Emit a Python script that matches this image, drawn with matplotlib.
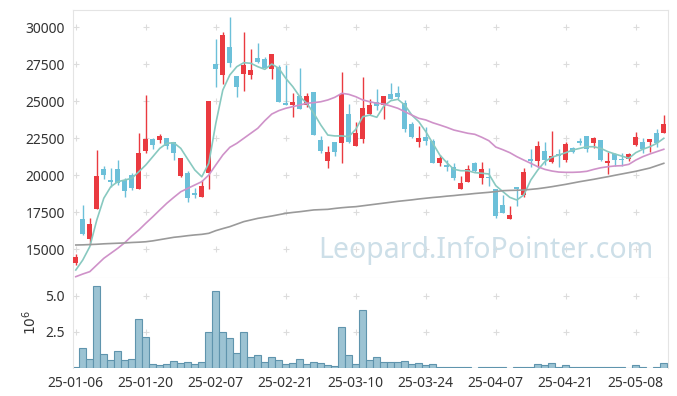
import numpy as np
import pandas as pd
import matplotlib
matplotlib.use("Agg")
import matplotlib.pyplot as plt

plt.rcParams["font.family"] = ["Noto Sans", "DejaVu Sans"]

# trading days (KRX holidays removed)
holidays = ["2025-01-27", "2025-01-28", "2025-01-29", "2025-01-30",
            "2025-03-03", "2025-05-01", "2025-05-05", "2025-05-06"]
days = pd.bdate_range("2025-01-06", "2025-05-14")
dates = [d for d in days if d.strftime("%Y-%m-%d") not in holidays]

opens = [14050, 17030, 15680, 17740, 20430, 19680, 20430, 19680, 20020, 19080,
         21660, 22430, 22390, 22500, 22230, 19970, 20180, 18830, 18550, 20130,
         27520, 26800, 28670, 26710, 26870, 26800, 27930, 27840, 27200, 27320,
         24870, 24770, 25360, 24730, 25630, 22390, 20990, 22230, 22200, 24140,
         22000, 22430, 24120, 24970, 24730, 25490, 25540, 24910, 23470, 22270,
         22590, 22340, 20810, 20680, 20540, 19050, 19570, 20850, 19800, 19900,
         19050, 17990, 17030, 19190, 18690, 21100, 20990, 21640, 20920, 21440,
         21030, 21830, 22320, 22660, 22200, 22390, 20850, 21440, 21120, 21080,
         22050, 22230, 22270, 22840, 22840]
highs = [14680, 17990, 17100, 21710, 20630, 20470, 21030, 19800, 20140, 22840,
         25430, 22500, 22770, 22500, 22230, 21150, 20310, 19120, 19680, 25020,
         29190, 29700, 30680, 26710, 29660, 28510, 28960, 28010, 28200, 27450,
         27450, 25540, 27230, 25540, 25630, 22660, 22000, 22230, 26980, 24800,
         23580, 26660, 25140, 25810, 25360, 26220, 26030, 25090, 23620, 23330,
         23280, 22430, 21370, 21030, 20810, 19950, 20700, 20900, 20900, 20470,
         19050, 18670, 17930, 19190, 20470, 21760, 22320, 22270, 22990, 21760,
         22270, 21930, 22500, 22660, 22610, 22390, 21600, 21490, 21530, 21530,
         22950, 22500, 22430, 23110, 24080]
lows = [13940, 15970, 15290, 17740, 19730, 19230, 19350, 18510, 19010, 19080,
        21490, 21760, 22160, 21760, 21030, 19900, 18180, 18450, 18550, 19050,
        25990, 26150, 27340, 25310, 25700, 26490, 27610, 27230, 26490, 24970,
        24750, 23960, 24500, 24640, 22720, 21490, 20470, 21300, 20810, 22160,
        22000, 22160, 24080, 24410, 23780, 25140, 25140, 22950, 22500, 21930,
        22050, 20850, 20630, 20310, 19680, 19050, 19570, 20240, 19410, 19280,
        17100, 17430, 17030, 17930, 18550, 20580, 20580, 20700, 20850, 20580,
        20920, 21490, 22050, 21600, 21820, 20990, 20090, 20630, 20630, 20990,
        21980, 21490, 21600, 21930, 22840]
closes = [14500, 16030, 16710, 19950, 20040, 19550, 19460, 18960, 19120, 21490,
          22430, 22050, 22660, 22000, 21530, 21150, 18490, 18650, 19280, 25020,
          27200, 29480, 27610, 25990, 27430, 27120, 27680, 27250, 28200, 24970,
          24750, 24950, 24500, 25360, 22720, 21660, 21600, 21600, 25490, 22270,
          22840, 24570, 24730, 24680, 25360, 25140, 25310, 23150, 22610, 22500,
          22340, 20850, 21150, 20540, 19800, 19500, 20430, 20310, 20400, 19800,
          17250, 17470, 17320, 19100, 20200, 20990, 21980, 21030, 21300, 21300,
          22120, 21580, 22200, 21800, 22520, 21030, 20970, 21030, 21030, 21440,
          22570, 21760, 22430, 22160, 23450]

# volume in millions
volumes = [0.05, 1.35, 0.58, 5.67, 0.93, 0.51, 1.16, 0.53, 0.58, 3.36,
           2.11, 0.24, 0.17, 0.24, 0.44, 0.31, 0.37, 0.26, 0.37, 2.46,
           5.30, 2.46, 2.04, 1.00, 2.46, 0.72, 0.86, 0.40, 0.72, 0.51,
           0.24, 0.31, 0.63, 0.24, 0.37, 0.31, 0.17, 0.15, 2.80, 0.86,
           0.28, 3.98, 0.53, 0.72, 0.37, 0.37, 0.37, 0.46, 0.24, 0.31,
           0.17, 0.24, 0.08, 0.08, 0.08, 0.08, 0.08, 0.0, 0.08, 0.08,
           0.08, 0.08, 0.0, 0.08, 0.08, 0.08, 0.24, 0.17, 0.31, 0.08,
           0.17, 0.08, 0.08, 0.08, 0.08, 0.08, 0.08, 0.08, 0.08, 0.0,
           0.17, 0.08, 0.0, 0.08, 0.31]

ma_short = [13600, 14280, 15180, 16980, 18450, 19230, 19570, 19680, 19800, 20240,
            20700, 21260, 21820, 22160, 22200, 21820, 21080, 20360, 19900, 20810,
            23510, 25760, 26780, 27340, 27610, 27570, 27340, 27160, 27520, 27230,
            26550, 25990, 25310, 24870, 24190, 23400, 22720, 22660, 22660, 22610,
            23110, 23960, 24070, 23920, 24680, 25040, 25135, 24750, 24070, 23620,
            22950, 22160, 21370, 20850, 20410, 20310, 20310, 20180, 20140, 20090,
            19300, 18900, 18510, 18330, 18670, 19680, 20360, 20920, 21220, 21370,
            21530, 21710, 21820, 21930, 21930, 21820, 21600, 21440, 21300, 21150,
            21530, 21760, 21930, 22160, 22500]
ma_mid = [13150, 13330, 13490, 13940, 14390, 14730, 15070, 15450, 15900, 16300,
          16760, 17200, 17660, 18110, 18510, 18890, 19120, 19345, 19570, 20020,
          20700, 21370, 21890, 22160, 22500, 22840, 23180, 23690, 24140, 24370,
          24530, 24640, 24750, 24870, 24910, 24970, 25090, 25270, 25540, 25470,
          25310, 25090, 24970, 24870, 24820, 24680, 24530, 24300, 24070, 23850,
          23740, 23550, 23400, 23240, 23060, 22950, 22840, 22770, 22570, 22340,
          21910, 21730, 21530, 21260, 21030, 20810, 20580, 20400, 20290, 20220,
          20200, 20200, 20220, 20270, 20400, 20510, 20580, 20630, 20650, 20740,
          21030, 21260, 21440, 21600, 21760]
ma_long = [15290, 15300, 15320, 15340, 15370, 15390, 15410, 15430, 15460, 15480,
           15510, 15570, 15650, 15730, 15810, 15860, 15920, 15970, 16010, 16080,
           16260, 16400, 16530, 16700, 16870, 16980, 17090, 17170, 17250, 17340,
           17430, 17490, 17540, 17600, 17660, 17680, 17700, 17760, 17810, 17850,
           17880, 17940, 18000, 18060, 18120, 18180, 18240, 18290, 18340, 18400,
           18450, 18500, 18540, 18590, 18630, 18680, 18720, 18770, 18810, 18850,
           18900, 18960, 18980, 18990, 19005, 19050, 19095, 19160, 19230, 19310,
           19390, 19480, 19570, 19650, 19730, 19820, 19905, 20000, 20090, 20180,
           20270, 20380, 20490, 20650, 20810]

RED = "#ea3a40"
BLUE = "#6cc0d9"

x = np.arange(len(dates))
o = np.array(opens)
c = np.array(closes)
colors = [RED if cc >= oo else BLUE for oo, cc in zip(o, c)]

fig = plt.figure(figsize=(6.77, 3.96), dpi=100)
W, H = 677, 396
ax = fig.add_axes([73 / W, 1 - 278 / H, 595 / W, 268 / H])
axv = fig.add_axes([73 / W, 1 - 367.7 / H, 595 / W, 89.7 / H], sharex=ax)

# candles
ax.vlines(x, lows, highs, colors=colors, lw=1, zorder=3)
body = np.maximum(np.abs(c - o), 60)
ax.bar(x, body, bottom=np.minimum(o, c), width=0.7, color=colors, zorder=4)

ax.plot(x, ma_short, color="#88c9c0", lw=1.2, zorder=5)
ax.plot(x, ma_mid, color="#cf92c9", lw=1.2, zorder=5)
ax.plot(x, ma_long, color="#9a9a9a", lw=1.2, zorder=5)

axv.bar(x, volumes, width=1.0, color="#9cc3d3", edgecolor="#5f94ad", lw=0.8)

xt = list(range(0, len(dates), 10))
yt = [15000, 17500, 20000, 22500, 25000, 27500, 30000]
vt = [2.5, 5.0]
for xx in xt:
    ax.scatter([xx] * len(yt), yt, marker="+", s=22, color="#dcdcdc", lw=0.8, zorder=1)
    axv.scatter([xx] * len(vt), vt, marker="+", s=22, color="#dcdcdc", lw=0.8, zorder=0)

ax.set_xlim(-0.4, 84.6)
ax.set_ylim(13060, 31170)
ax.set_yticks(yt)
ax.set_yticklabels([str(v) for v in yt])
axv.set_ylim(0, 6.23)
axv.set_yticks(vt)
axv.set_yticklabels(["2.5", "5.0"])
axv.set_xticks(xt)
axv.set_xticklabels([dates[i].strftime("%y-%m-%d") for i in xt])
axv.set_ylabel(r"$10^6$", fontsize=10, color="#333333", labelpad=4)

for a in (ax, axv):
    a.tick_params(length=0, labelsize=10, colors="#333333", pad=6)
    for s in a.spines.values():
        s.set_color("#e4e4e4")
axv.spines["bottom"].set_visible(False)
axv.spines["top"].set_visible(False)
ax.tick_params(axis="x", labelbottom=False)

fig.text(318 / W, 1 - 258 / H, "Leopard.InfoPointer.com", fontsize=20.5,
         color="#cddfe8", va="baseline", ha="left", zorder=10)

fig.savefig("out.png", dpi=100)
